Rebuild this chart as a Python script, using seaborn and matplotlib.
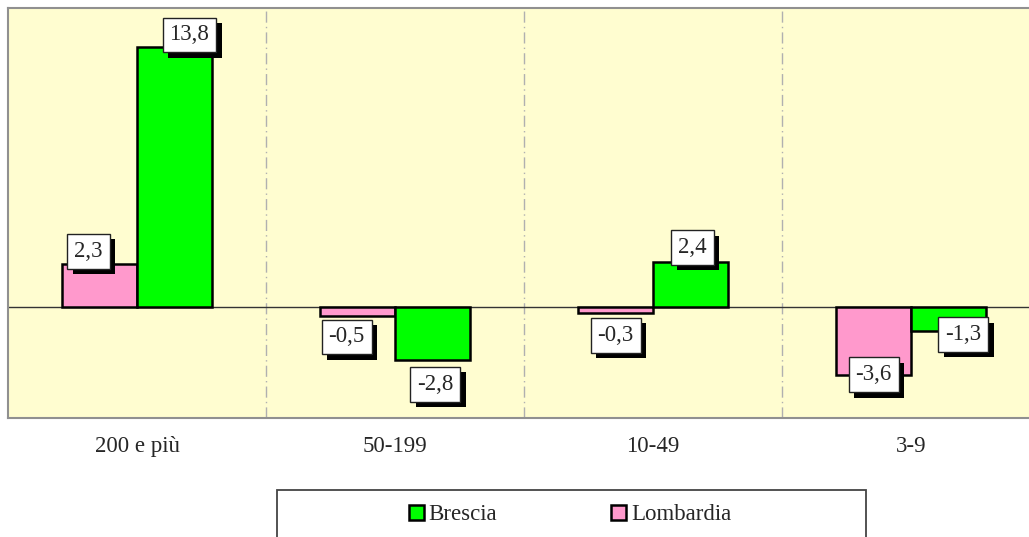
import pandas as pd
import matplotlib
matplotlib.use('Agg')
import matplotlib.pyplot as plt
import matplotlib.patheffects as pe
from matplotlib.patches import Rectangle, Patch
import seaborn as sns

# data
categories = ['200 e più', '50-199', '10-49', '3-9']
lombardia = [2.3, -0.5, -0.3, -3.6]
brescia = [13.8, -2.8, 2.4, -1.3]
series_order = ['Lombardia', 'Brescia']
colors = {'Lombardia': '#FF99CC', 'Brescia': '#00FF00'}

df = pd.DataFrame({
    'Classe': categories * 2,
    'Serie': ['Lombardia'] * 4 + ['Brescia'] * 4,
    'Valore': lombardia + brescia,
})

sns.set_style('white')
plt.rcParams['font.family'] = ['Liberation Serif', 'DejaVu Serif']

fig = plt.figure(figsize=(10.29, 5.37), dpi=100)
ax = fig.add_axes([8 / 1029, 119 / 537, 1032 / 1029, 410 / 537])
ax.set_facecolor('#FFFDD0')

sns.barplot(data=df, x='Classe', y='Valore', hue='Serie', hue_order=series_order,
            order=categories, palette=colors, saturation=1, width=0.58, gap=0,
            edgecolor='black', linewidth=1.8, legend=False, ax=ax, zorder=3)

ax.set_xlim(-0.5, 3.5)
ax.set_ylim(-5.9, 15.9)
ax.set_yticks([])
ax.set_xlabel('')
ax.set_ylabel('')
ax.tick_params(axis='x', length=0, pad=13, labelsize=16.5)
for s in ax.spines.values():
    s.set_color('#909090')
    s.set_linewidth(1.5)

# separators and zero line
for xs in [0.5, 1.5, 2.5]:
    ax.axvline(xs, color='#b0b0b0', lw=1, dashes=(8, 3, 1, 3), zorder=1)
ax.axhline(0, color='#333333', lw=1, zorder=2)

# value labels in boxed callouts with shadow
nudge = {  # pixel offsets (dx, dy, va)
    ('Lombardia', 0): (-11, 2, 'bottom'),
    ('Brescia', 0): (15, 2, 'bottom'),
    ('Lombardia', 1): (-11, -10, 'top'),
    ('Brescia', 1): (3, -14, 'top'),
    ('Lombardia', 2): (0, -12, 'top'),
    ('Brescia', 2): (2, 4, 'bottom'),
    ('Lombardia', 3): (0, 0, 'center'),
    ('Brescia', 3): (15, -3, 'center'),
}
for i, serie in enumerate(series_order):
    bars = ax.containers[i]
    for j, bar in enumerate(bars):
        val = bar.get_height()
        xc = bar.get_x() + bar.get_width() / 2
        dx, dy, va = nudge[(serie, j)]
        t = ax.annotate(f'{val:.1f}'.replace('.', ','), xy=(xc, val),
                        xytext=(dx, dy), textcoords='offset pixels',
                        ha='center', va=va, fontsize=16.5, zorder=5,
                        bbox=dict(boxstyle='square,pad=0.3', fc='white',
                                  ec='#222222', lw=1))
        t.get_bbox_patch().set_path_effects([
            pe.SimplePatchShadow(offset=(4, -4), shadow_rgbFace='black', alpha=1),
            pe.Normal()])

# legend box (cut at bottom like the original)
fig.patches.append(Rectangle((277 / 1029, -0.1), 589 / 1029, (537 - 490) / 537 + 0.1,
                             transform=fig.transFigure, fill=False,
                             ec='#444444', lw=1.3))
handles = [Patch(fc=colors['Brescia'], ec='black', lw=1.8, label='Brescia'),
           Patch(fc=colors['Lombardia'], ec='black', lw=1.8, label='Lombardia')]
fig.legend(handles=handles, loc='center', bbox_to_anchor=(570 / 1029, 1 - 515 / 537),
           ncol=2, frameon=False, fontsize=16.5, handlelength=0.65, handleheight=0.65,
           handletextpad=0.2, columnspacing=5.0)

fig.savefig('out.png', dpi=100)
